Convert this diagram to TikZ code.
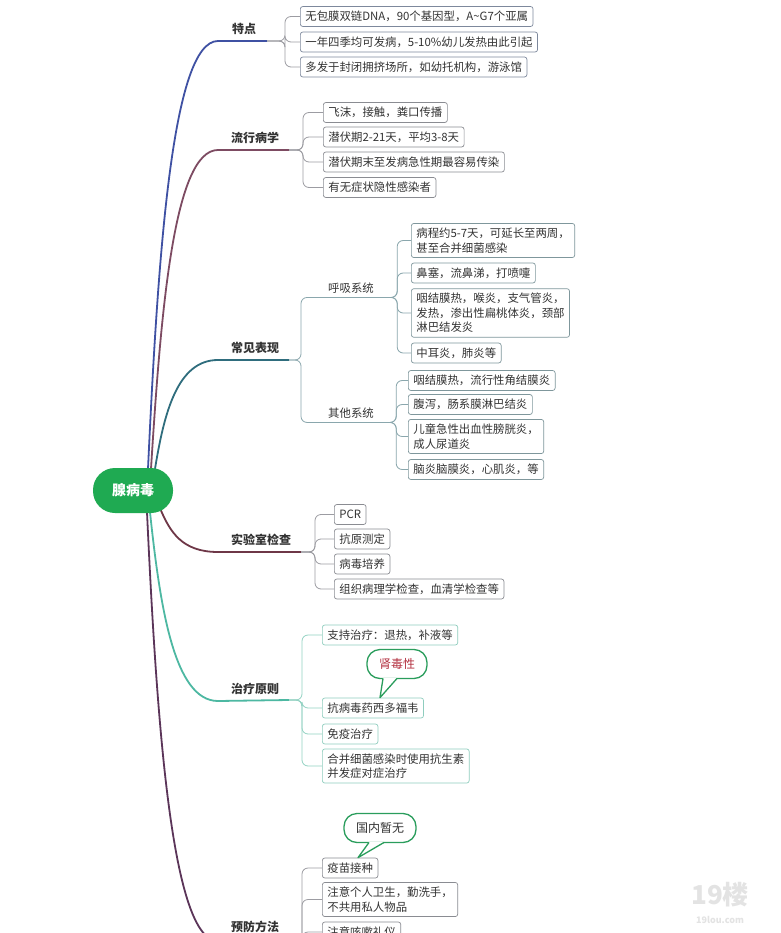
\documentclass[tikz,border=0pt]{standalone}
\usepackage{fontspec}
\setmainfont{Noto Sans CJK SC}
\usetikzlibrary{backgrounds}
\definecolor{rootgreen}{HTML}{1FAA52}
\definecolor{featblue}{HTML}{3F51A3}
\definecolor{epidrose}{HTML}{7D4B62}
\definecolor{clinteal}{HTML}{2F6D7D}
\definecolor{labmaroon}{HTML}{6E3747}
\definecolor{treatmint}{HTML}{4DB8A2}
\definecolor{prevplum}{HTML}{5B3559}
\definecolor{twiggray}{HTML}{9C9CA2}
\definecolor{twigteal}{HTML}{8AA7AD}
\definecolor{twigmint}{HTML}{93D2C3}
\definecolor{boxgray}{HTML}{8A8C92}
\definecolor{boxblue}{HTML}{7D889C}
\definecolor{boxteal}{HTML}{7F979C}
\definecolor{boxmint}{HTML}{8FCDBE}
\definecolor{bubblegreen}{HTML}{2A9D5C}
\definecolor{inktext}{HTML}{333333}
\definecolor{inkred}{HTML}{B3303F}
\tikzset{
  leaf/.style={draw=#1, rounded corners=2.5, fill=white, line width=0.7,
    inner xsep=5, inner ysep=4.5, minimum height=20, anchor=west, align=left,
    text=inktext, font=\fontsize{11.4}{14.5}\selectfont},
  leaf/.default=boxgray,
  limb/.style={draw=#1, line width=1.8},
  twig/.style={draw=#1, line width=0.8, rounded corners=6},
  twig/.default=twiggray,
  head/.style={text=inktext, font=\bfseries\fontsize{12}{14}\selectfont},
  sublabel/.style={minimum width=78, inner ysep=4, text=inktext,
    font=\fontsize{11.4}{14}\selectfont},
  bubble/.style={draw=bubblegreen, line width=1.3, rounded corners=13, fill=white,
    minimum height=29, inner xsep=12, font=\fontsize{12}{14}\selectfont},
  rootnode/.style={fill=rootgreen, rounded corners=22, minimum width=80,
    minimum height=45, text=white, font=\bfseries\fontsize{14}{16}\selectfont}
}
\begin{document}
\begin{tikzpicture}[x=1pt,y=-1pt]
\path[use as bounding box] (0,0) rectangle (780,933);
\clip (0,0) rectangle (780,933);

\node[rootnode] (adv) at (133,490.5) {腺病毒};

\node[head] (feat) at (244,29) {特点};
\coordinate (featS) at (267,41);
\node[leaf=boxblue] (feat1) at (300,16.5) {无包膜双链DNA，90个基因型，A\textasciitilde G7个亚属};
\node[leaf=boxblue] (feat2) at (300,42) {一年四季均可发病，5-10\%幼儿发热由此引起};
\node[leaf=boxblue] (feat3) at (300,67) {多发于封闭拥挤场所，如幼托机构，游泳馆};

\node[head] (epid) at (255,138) {流行病学};
\coordinate (epidS) at (289,150);
\node[leaf] (epid1) at (323,112.5) {飞沫，接触，粪口传播};
\node[leaf] (epid2) at (323,137) {潜伏期2-21天，平均3-8天};
\node[leaf] (epid3) at (323,162) {潜伏期末至发病急性期最容易传染};
\node[leaf] (epid4) at (323,187.5) {有无症状隐性感染者};

\node[head] (clin) at (255,348) {常见表现};
\coordinate (clinS) at (289,360);
\node[sublabel] (resp) at (351,288) {呼吸系统};
\node[sublabel] (other) at (351,413) {其他系统};
\node[leaf=boxteal] (resp1) at (411,240.5) {病程约5-7天，可延长至两周，\\甚至合并细菌感染};
\node[leaf=boxteal] (resp2) at (411,273) {鼻塞，流鼻涕，打喷嚏};
\node[leaf=boxteal] (resp3) at (411,313) {咽结膜热，喉炎，支气管炎，\\发热，渗出性扁桃体炎，颈部\\淋巴结发炎};
\node[leaf=boxteal] (resp4) at (411,353) {中耳炎，肺炎等};
\node[leaf=boxteal] (other1) at (408,380.5) {咽结膜热，流行性角结膜炎};
\node[leaf=boxteal] (other2) at (408,404.5) {腹泻，肠系膜淋巴结炎};
\node[leaf=boxteal] (other3) at (408,436.5) {儿童急性出血性膀胱炎，\\成人尿道炎};
\node[leaf=boxteal] (other4) at (408,469.5) {脑炎脑膜炎，心肌炎，等};

\node[head] (lab) at (261,540) {实验室检查};
\coordinate (labS) at (301,552);
\node[leaf] (lab1) at (334,514.5) {PCR};
\node[leaf] (lab2) at (334,539) {抗原测定};
\node[leaf] (lab3) at (334,564) {病毒培养};
\node[leaf] (lab4) at (334,589) {组织病理学检查，血清学检查等};

\node[head] (treat) at (255,689) {治疗原则};
\coordinate (treatS) at (289,700);
\node[leaf=boxmint] (treat1) at (322,635) {支持治疗：退热，补液等};
\node[leaf=boxmint] (treat2) at (322,708) {抗病毒药西多福韦};
\node[leaf=boxmint] (treat3) at (322,734) {免疫治疗};
\node[leaf=boxmint] (treat4) at (322,766) {合并细菌感染时使用抗生素\\并发症对症治疗};
\node[bubble, text=inkred] (kidney) at (397,664) {肾毒性};
\coordinate (kidneytip) at ([xshift=58]treat2.north west);

\node[head] (prev) at (255,927) {预防方法};
\coordinate (prevS) at (289,941);
\node[leaf] (prev1) at (322,868) {疫苗接种};
\node[leaf] (prev2) at (322,899.5) {注意个人卫生，勤洗手，\\不共用私人物品};
\node[leaf] (prev3) at (322,932) {注意咳嗽礼仪};
\node[bubble, text=inktext] (domestic) at (380,828) {国内暂无};
\coordinate (domestictip) at ([xshift=36]prev1.north west);

\fill[white] ([xshift=-14,yshift=1]kidney.south) -- (kidneytip) -- ([yshift=1]kidney.south) -- cycle;
\draw[bubblegreen, line width=1.3, line join=round] ([xshift=-14,yshift=0.7]kidney.south) -- (kidneytip) -- ([yshift=0.7]kidney.south);
\fill[white] ([xshift=-11,yshift=1]domestic.south) -- (domestictip) -- ([xshift=4,yshift=1]domestic.south) -- cycle;
\draw[bubblegreen, line width=1.3, line join=round] ([xshift=-11,yshift=0.7]domestic.south) -- (domestictip) -- ([xshift=4,yshift=0.7]domestic.south);

\node[text=gray!22, font=\bfseries\fontsize{26}{26}\selectfont] (mark) at (720,895) {19楼};
\node[text=gray!22, font=\bfseries\fontsize{9}{9}\selectfont] (markurl) at (720,920) {19lou.com};

\begin{scope}[on background layer]
\fill[white] (0,0) rectangle (780,933);
\draw[limb=featblue] ([xshift=15,yshift=-1]adv.north) .. controls (158,255) and (172,41) .. (218,41) -- (featS);
\draw[limb=epidrose] ([xshift=18,yshift=-1]adv.north) .. controls (161,309) and (174,150) .. (218,150) -- (epidS);
\draw[limb=clinteal] ([xshift=22,yshift=-1]adv.north) .. controls (164,414) and (177,360) .. (218,360) -- (clinS);
\draw[limb=labmaroon] ([xshift=27,yshift=5]adv.south) .. controls (170,532) and (182,552) .. (218,552) -- (labS);
\draw[limb=treatmint] ([xshift=17,yshift=1]adv.south) .. controls (160,606) and (174,701) .. (218,701) -- (treatS);
\draw[limb=prevplum] ([xshift=14,yshift=1]adv.south) .. controls (157,727) and (172,941) .. (218,941) -- (prevS);
\end{scope}

\foreach \k in {feat1,feat2,feat3}
  \draw[twig] (featS) -- ++(18,0) |- (\k.west);
\foreach \k in {epid1,epid2,epid3,epid4}
  \draw[twig] (epidS) -- ++(14,0) |- (\k.west);
\foreach \k in {resp,other}
  \draw[twig=twigteal] (clinS) -- ++(12,0) |- (\k.south west);
\draw[twigteal, line width=0.8] (resp.south west) -- (resp.south east);
\draw[twigteal, line width=0.8] (other.south west) -- (other.south east);
\foreach \k in {resp1,resp2,resp3,resp4}
  \draw[twig=twigteal] (resp.south east) -- ++(7,0) |- (\k.west);
\foreach \k in {other1,other2,other3,other4}
  \draw[twig=twigteal] (other.south east) -- ++(6,0) |- (\k.west);
\foreach \k in {lab1,lab2,lab3,lab4}
  \draw[twig] (labS) -- ++(14,0) |- (\k.west);
\foreach \k in {treat1,treat2,treat3,treat4}
  \draw[twig=twigmint] (treatS) -- ++(13,0) |- (\k.west);
\foreach \k in {prev1,prev2,prev3}
  \draw[twig] (prevS) -- ++(13,0) |- (\k.west);
\end{tikzpicture}
\end{document}
